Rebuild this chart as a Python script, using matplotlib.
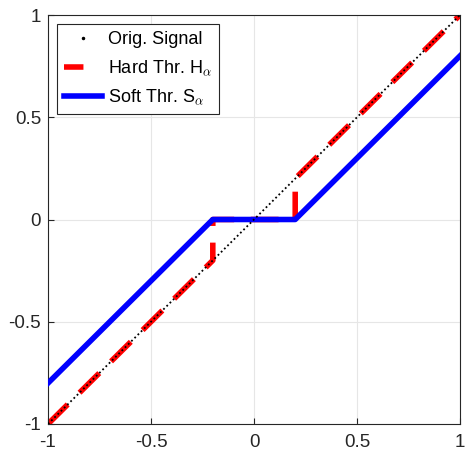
import matplotlib
matplotlib.use("Agg")
import matplotlib.pyplot as plt
from matplotlib.lines import Line2D

plt.rcParams['font.family'] = ['Liberation Sans', 'DejaVu Sans']
plt.rcParams['mathtext.fontset'] = 'cm'

alpha = 0.2
orig_x = [-1.0, 1.0]
orig_y = [-1.0, 1.0]
hard_x = [-1.0, -0.2, -0.2, 0.2, 0.2, 1.0]
hard_y = [-1.0, -0.2, 0.0, 0.0, 0.2, 1.0]
soft_x = [-1.0, -0.2, 0.2, 1.0]
soft_y = [-0.8, 0.0, 0.0, 0.8]
ticks = [-1, -0.5, 0, 0.5, 1]
tick_labels = ['-1', '-0.5', '0', '0.5', '1']

fig = plt.figure(figsize=(4.65, 4.54), dpi=100)
ax = fig.add_axes([48/465, 30/454, 412/465, 409/454])

ax.plot(orig_x, orig_y, color='black', linestyle=(0, (1, 1.5)), linewidth=1.3, zorder=4)
ax.plot(hard_x, hard_y, color='red', linestyle=(0, (5, 3)), linewidth=4, zorder=2)
ax.plot(soft_x, soft_y, color='blue', linewidth=4, zorder=3)

ax.set_xlim(-1, 1)
ax.set_ylim(-1, 1)
ax.set_xticks(ticks)
ax.set_xticklabels(tick_labels)
ax.set_yticks(ticks)
ax.set_yticklabels(tick_labels)
ax.tick_params(direction='in', labelsize=13.5, length=4, color='#262626', labelcolor='#262626')
ax.tick_params(axis='x', pad=7)
ax.tick_params(axis='y', pad=5)
ax.grid(True, color='#e6e6e6', linewidth=0.8)
ax.set_axisbelow(True)
for s in ax.spines.values():
    s.set_color('#262626')
    s.set_linewidth(0.8)

handles = [
    Line2D([], [], color='black', marker='.', markersize=3, linestyle='none'),
    Line2D([], [], color='red', linewidth=4, linestyle=(0, (3.5, 12))),
    Line2D([], [], color='blue', linewidth=4),
]
labels = ['Orig. Signal', 'Hard Thr. H$_{\\alpha}$', 'Soft Thr. S$_{\\alpha}$']
leg = ax.legend(handles, labels, loc='upper left', fontsize=13, fancybox=False,
                edgecolor='#262626', framealpha=1, borderaxespad=0.5,
                handlelength=2.1, handletextpad=0.3, labelspacing=0.55, borderpad=0.4)
leg.get_frame().set_linewidth(0.8)

fig.savefig('out.png', dpi=100)
